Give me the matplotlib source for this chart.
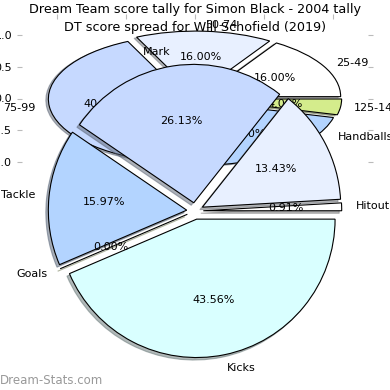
import matplotlib
matplotlib.use("Agg")
import matplotlib.pyplot as plt

# Simon Black 2004 DT score tally (percent of points)
stat_labels = ["Kicks", "Goals", "Tackle", "Mark", "Handballs", "Hitout"]
stat_values = [43.56, 0.00, 15.97, 26.13, 13.43, 0.91]
stat_colors = ["#d9ffff", "#d4ec8c", "#b3d4ff", "#c6d9ff", "#e8f0ff", "#ffffff"]

# Will Schofield 2019 score spread
spread_labels = ["25-49", "50-74", "75-99", "100-124", "125-149"]
spread_values = [16.0, 16.0, 40.0, 24.0, 4.0]
spread_colors = ["#ffffff", "#e8f0ff", "#c6d9ff", "#b3d4ff", "#d4ec8c"]

ticks = [-1.0, -0.5, 0.0, 0.5, 1.0]
shadow_style = {"ox": -0.013, "oy": -0.013, "shade": 0.55}

fig = plt.figure(figsize=(3.9, 3.9), dpi=100)

# second chart, squashed into the top half
ax2 = fig.add_axes([22 / 390, 1 - 178 / 390, 346 / 390, 159 / 390])
ax2.pie(spread_values, labels=spread_labels, colors=spread_colors,
        explode=[0.06] * len(spread_values), autopct="%1.2f%%",
        shadow=shadow_style, counterclock=True, startangle=0,
        wedgeprops={"edgecolor": "black", "linewidth": 0.8},
        textprops={"fontsize": 8})
ax2.set_aspect("auto")
ax2.set_xlim(-1.25, 1.25)
ax2.set_ylim(-1.25, 1.25)
ax2.set_yticks(ticks)
ax2.set_xticks(ticks)
ax2.tick_params(axis="both", color="#bbbbbb", labelsize=8, length=3.5,
                left=True, right=True, top=True, bottom=False,
                labelleft=True, labelbottom=False)

# first chart on top
ax1 = fig.add_axes([22 / 390, 6 / 390, 346 / 390, 346 / 390])
ax1.pie(stat_values, labels=stat_labels, colors=stat_colors,
        explode=[0.06] * len(stat_values), autopct="%1.2f%%",
        shadow=shadow_style, counterclock=False, startangle=0,
        wedgeprops={"edgecolor": "black", "linewidth": 0.8},
        textprops={"fontsize": 8})
ax1.set_xlim(-1.25, 1.25)
ax1.set_ylim(-1.25, 1.25)
ax1.patch.set_visible(False)

fig.text(0.5, 1 - 10 / 390, "Dream Team score tally for Simon Black - 2004 tally",
         ha="center", va="center", fontsize=9.2)
fig.text(0.5, 1 - 27 / 390, "DT score spread for Will Schofield (2019)",
         ha="center", va="center", fontsize=9.2)
fig.text(0.0, 1 - 380 / 390, "Dream-Stats.com", ha="left", va="center",
         fontsize=8.5, color="#999999")

fig.savefig("out.png", dpi=100)
